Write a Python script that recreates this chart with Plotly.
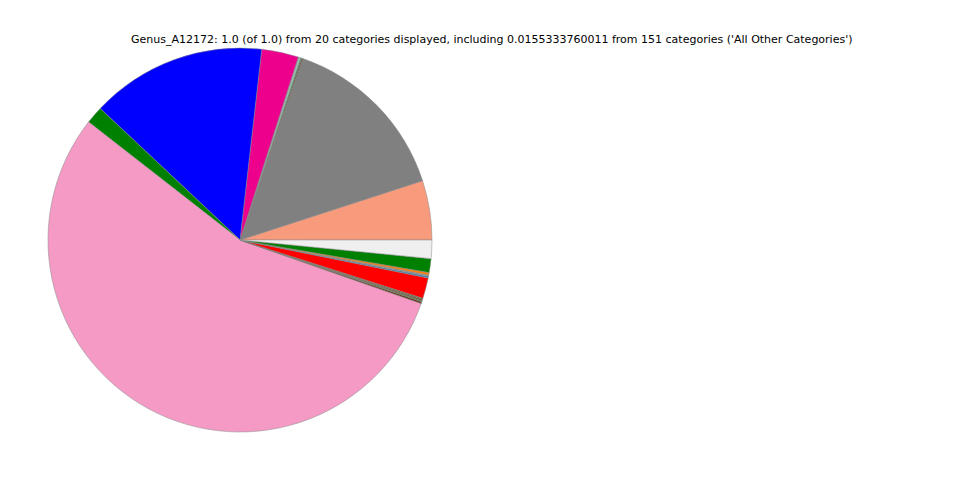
import plotly.graph_objects as go

categories = [f"Category_{i+1}" for i in range(19)] + ["All Other Categories"]
values = [0.0500, 0.1470, 0.0010, 0.0010, 0.0015, 0.0005, 0.0310, 0.1480, 0.0148, 0.5520,
          0.0015, 0.0010, 0.0010, 0.0010, 0.0175, 0.0015, 0.0010, 0.0020, 0.0117, 0.0155]
colors = ["#F89A7C", "#808080", "#6B3A1E", "#2E8B57", "#9ED2B8", "#A6CEE3", "#EC008C", "#0000FF",
          "#008000", "#F49AC4", "#6B2A10", "#2E8B2E", "#7A2A10", "#556B2F", "#FF0000",
          "#4682B4", "#999999", "#FF7F0E", "#008000", "#EFEFEF"]

title = ("Genus_A12172: 1.0 (of 1.0) from 20 categories displayed, including "
         "0.0155333760011 from 151 categories ('All Other Categories')")

W, H = 960, 480
fig = go.Figure(go.Pie(
    labels=categories, values=values, sort=False,
    direction="counterclockwise", rotation=72,
    marker=dict(colors=colors, line=dict(color="#888888", width=0.5)),
    textinfo="none", showlegend=False,
    domain=dict(x=[40/W, 424/W], y=[1-424/H, 1-40/H]),
))

fig.update_layout(
    width=W, height=H,
    margin=dict(l=0, r=0, t=0, b=0),
    paper_bgcolor="white", plot_bgcolor="white",
    font=dict(family="DejaVu Sans", size=11, color="black"),
    annotations=[dict(text=title, x=484/W, y=1-32/H, xref="paper", yref="paper",
                      showarrow=False, xanchor="center", yanchor="middle",
                      font=dict(size=11, family="DejaVu Sans"))],
)

fig.write_html("out.html")
